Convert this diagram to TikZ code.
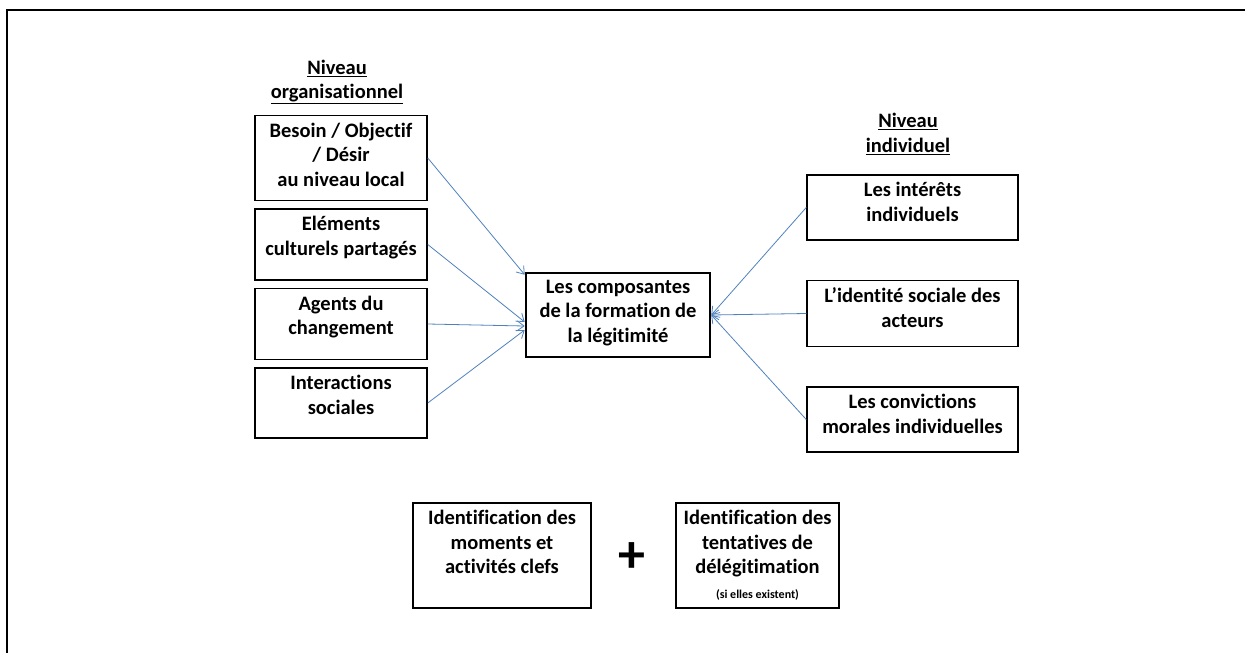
\documentclass[tikz,border=0pt]{standalone}
\usepackage{fontspec}
\setmainfont{Carlito}[Ligatures=CommonOff]
\usetikzlibrary{arrows.meta,positioning}

\definecolor{linkblue}{RGB}{79,129,189}

\tikzset{
  box/.style={draw, line width=1.5pt, minimum width=172pt, inner sep=0pt},
  txt/.style={anchor=north, align=center, inner sep=8pt,
              font=\bfseries\fontsize{20.5}{24.5}\selectfont},
  head/.style={align=center, font=\bfseries\fontsize{20.5}{24.5}\selectfont},
  link/.style={linkblue, line width=0.8pt, -{Straight Barb[length=7pt,width=10pt]}}
}

\begin{document}
\begin{tikzpicture}[x=1pt, y=-1pt]
  \useasboundingbox (0,0) rectangle (1245,653);
  % frame
  \draw[line width=2.8pt] (1250,10) -- (7,10) -- (7,660);

  % organisational level
  \node[head] (orghead) at (337,82) {\underline{Niveau}\\\underline{organisationnel}};
  \node[box, minimum height=85pt] (besoin) at (341,158) {};
  \node[box, minimum height=71pt, below=7pt of besoin] (culture) {};
  \node[box, minimum height=71pt, below=7pt of culture] (agents) {};
  \node[box, minimum height=70pt, below=7pt of agents] (interact) {};
  \node[txt] (besointxt) at (besoin.north) {Besoin / Objectif\\/ Désir\\au niveau local};
  \node[txt] (culturetxt) at (culture.north) {Eléments\\culturels partagés};
  \node[txt] (agentstxt) at (agents.north) {Agents du\\changement};
  \node[txt] (interacttxt) at (interact.north) {Interactions\\sociales};

  % centre
  \node[box, line width=2.6pt, minimum width=184pt, minimum height=84pt] (comp) at (618,315) {};
  \node[txt] (comptxt) at (comp.north) {Les composantes\\de la formation de\\la légitimité};

  % individual level
  \node[head] (indhead) at (908,134) {\underline{Niveau}\\\underline{individuel}};
  \node[box, minimum width=211pt, minimum height=65pt] (interets) at (912.5,207.5) {};
  \node[box, minimum width=211pt, minimum height=66pt, below=39pt of interets] (identite) {};
  \node[box, minimum width=211pt, minimum height=65pt, below=39pt of identite] (convic) {};
  \node[txt] (interetstxt) at (interets.north) {Les intérêts\\individuels};
  \node[txt] (identitetxt) at (identite.north) {L’identité sociale des\\acteurs};
  \node[txt] (convictxt) at (convic.north) {Les convictions\\morales individuelles};

  % links
  \draw[link] (besoin.east) -- ([yshift=-3pt]comp.north west);
  \draw[link] (culture.east) -- ([yshift=-7pt]comp.west);
  \draw[link] (agents.east) -- ([yshift=-11pt]comp.west);
  \draw[link] (interact.east) -- ([yshift=-15pt]comp.west);
  \draw[link] (interets.west) -- (comp.east);
  \draw[link] (identite.west) -- (comp.east);
  \draw[link] (convic.west) -- (comp.east);

  % bottom
  \node[box, minimum width=178pt, minimum height=105pt] (moments) at (502,555.5) {};
  \node[box, minimum width=163pt, minimum height=105pt] (delegit) at (757.5,555.5) {};
  \node[txt] (momentstxt) at (moments.north) {Identification des\\moments et\\activités clefs};
  \node[txt] (delegittxt) at (delegit.north) {Identification des\\tentatives de\\délégitimation\\{\fontsize{12}{24.5}\selectfont(si elles existent)}};
  \node[font=\bfseries\fontsize{54}{54}\selectfont] (plus) at (632,558) {+};
\end{tikzpicture}
\end{document}
